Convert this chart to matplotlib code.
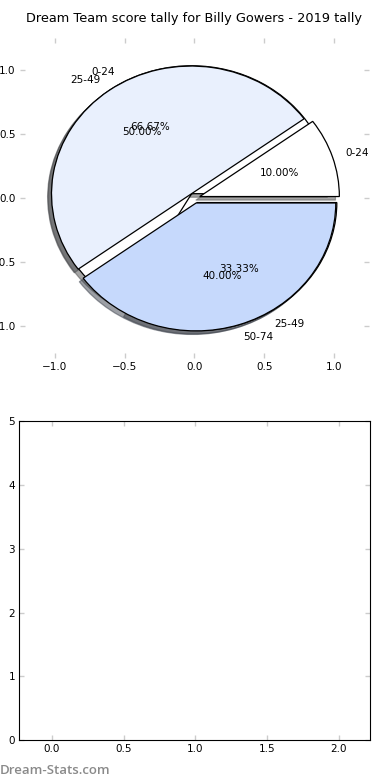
import numpy as np
import matplotlib
matplotlib.use("Agg")
import matplotlib.pyplot as plt

# 2018 (inner/under) and 2019 (top) score brackets
labels_a = ["0-24", "25-49"]
values_a = [66.67, 33.33]
labels_b = ["0-24", "25-49", "50-74"]
values_b = [10.0, 50.0, 40.0]
colors = ["#ffffff", "#e9f0fd", "#c6d9fc"]

title = "Dream Team score tally for Billy Gowers - 2019 tally"

plt.rcParams["font.family"] = "DejaVu Sans"
plt.rcParams["font.size"] = 7.5

fig = plt.figure(figsize=(3.9, 7.8), dpi=100)

ax1 = fig.add_axes([0.051, 0.541, 0.895, 0.41])
wp = dict(edgecolor="black", linewidth=0.9)
ax1.pie(values_a, labels=labels_a, colors=colors[:2], explode=[0.04] * 2,
        autopct="%1.2f%%", shadow=True, frame=True, wedgeprops=wp,
        textprops=dict(fontsize=7.5))
ax1.pie(values_b, labels=labels_b, colors=colors, explode=[0.04] * 3,
        autopct="%1.2f%%", shadow=True, frame=True, wedgeprops=wp,
        textprops=dict(fontsize=7.5))
ax1.set_aspect("auto")
ax1.set_xlim(-1.25, 1.25)
ax1.set_ylim(-1.25, 1.25)
ax1.set_xticks([-1.0, -0.5, 0.0, 0.5, 1.0])
ax1.set_yticks([-1.0, -0.5, 0.0, 0.5, 1.0])
for s in ax1.spines.values():
    s.set_visible(False)
ax1.set_title(title, fontsize=9.3, pad=12)

ax2 = fig.add_axes([0.049, 0.051, 0.9, 0.409])
ax2.set_xlim(-0.23, 2.22)
ax2.set_ylim(0, 5)
ax2.set_xticks([0.0, 0.5, 1.0, 1.5, 2.0])
ax2.set_yticks([0, 1, 2, 3, 4, 5])

for ax in (ax1, ax2):
    ax.tick_params(direction="in", length=3.5, width=1, color="#cccccc",
                   top=True, right=True, labelsize=7.5, pad=3)

fig.text(0.0, 0.004, "Dream-Stats.com", color="#8a8a8a", fontsize=9.5,
         family="Open Sans", fontweight="semibold", ha="left", va="bottom")

fig.savefig("out.png", dpi=100)
